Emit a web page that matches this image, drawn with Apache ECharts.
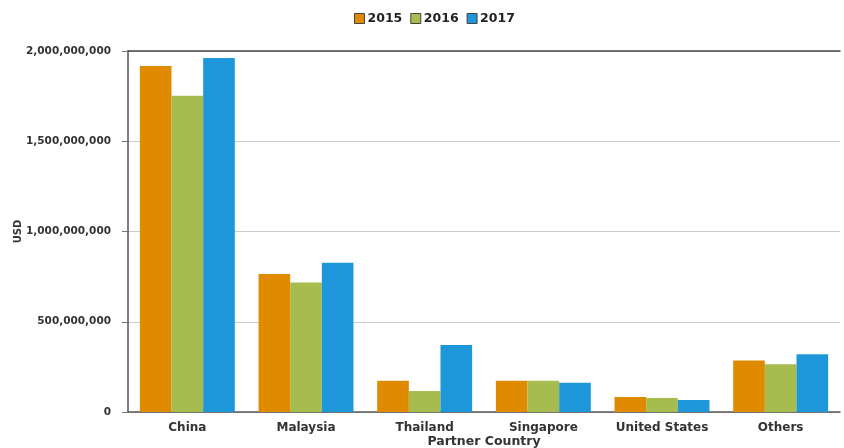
<!DOCTYPE html>
<html>
<head>
<meta charset="utf-8">
<script src="https://cdn.jsdelivr.net/npm/echarts@6/dist/echarts.min.js"></script>
<style>html,body{margin:0;padding:0;background:#fff}#c{width:844px;height:448px}</style>
</head>
<body>
<div id="c"></div>
<script>
var categories = ['China', 'Malaysia', 'Thailand', 'Singapore', 'United States', 'Others'];
var years = ['2015', '2016', '2017'];
var v2015 = [1917000000, 765000000, 173000000, 173000000, 83000000, 286000000];
var v2016 = [1752000000, 718000000, 116000000, 173000000, 78000000, 264000000];
var v2017 = [1961000000, 827000000, 371000000, 162000000, 66000000, 320000000];
var yTicks = [0, 500000000, 1000000000, 1500000000, 2000000000];
var colors = ['#E08A00', '#A6BC4F', '#1E97DA'];

var font = 'DejaVu Sans';
var chart = echarts.init(document.getElementById('c'));
var seriesData = [v2015, v2016, v2017];
chart.setOption({
  animation: false,
  color: colors,
  legend: {
    top: 7,
    left: 349,
    itemWidth: 10,
    itemHeight: 10,
    itemGap: 8,
    icon: 'rect',
    itemStyle: { borderColor: '#444', borderWidth: 1 },
    textStyle: { fontFamily: font, fontWeight: 'bold', fontSize: 12.5, color: '#222', padding: [0, 0, 0, -2] },
    data: years
  },
  grid: { left: 128, right: 4, top: 51, bottom: 36, outerBoundsMode: 'none', containLabel: false },
  xAxis: [{
    type: 'category',
    data: categories,
    name: 'Partner Country',
    nameLocation: 'middle',
    nameGap: 23,
    nameMoveOverlap: false,
    nameTextStyle: { fontFamily: font, fontWeight: 'bold', fontSize: 12.5, color: '#333' },
    axisLine: { lineStyle: { color: '#555', width: 1.5 } },
    axisTick: { alignWithLabel: true, length: 4, lineStyle: { color: '#555' } },
    axisLabel: { interval: 0, fontFamily: font, fontWeight: 'bold', fontSize: 12, color: '#333', margin: 10 }
  }, {
    type: 'category',
    data: categories,
    position: 'top',
    axisLine: { lineStyle: { color: '#444', width: 1.5 } },
    axisTick: { show: false },
    axisLabel: { show: false }
  }],
  yAxis: {
    type: 'value',
    min: yTicks[0],
    max: yTicks[yTicks.length - 1],
    interval: yTicks[1] - yTicks[0],
    name: 'USD',
    nameLocation: 'middle',
    nameGap: 105,
    nameMoveOverlap: false,
    nameRotate: 90,
    nameTextStyle: { fontFamily: font, fontWeight: 'bold', fontSize: 10, color: '#333' },
    axisLine: { show: true, lineStyle: { color: '#555', width: 1.5 } },
    axisTick: { show: true, length: 6, lineStyle: { color: '#777' } },
    splitLine: { lineStyle: { color: '#ccc' } },
    axisLabel: {
      fontFamily: font, fontWeight: 'bold', fontSize: 10.5, color: '#333', margin: 17,
      formatter: function (v) { return v.toString().replace(/\B(?=(\d{3})+(?!\d))/g, ','); }
    }
  },
  series: years.map(function (y, i) {
    return {
      name: y,
      type: 'bar',
      data: seriesData[i],
      barGap: '0%',
      barCategoryGap: '20%'
    };
  })
});
</script>
</body>
</html>
